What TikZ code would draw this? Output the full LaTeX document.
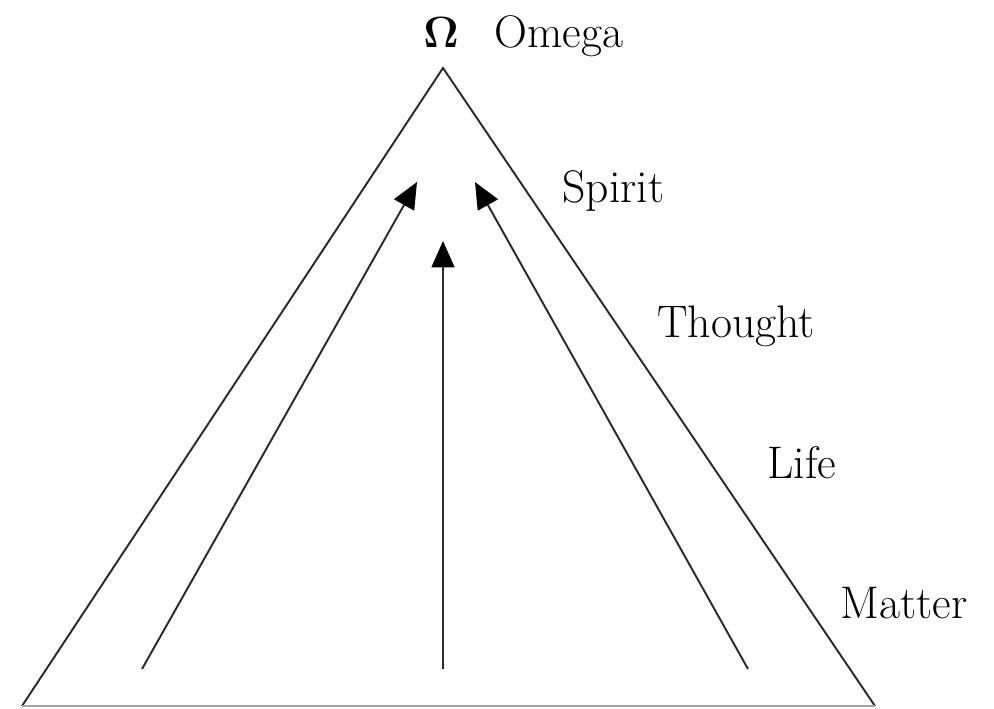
\documentclass[tikz,border=0pt]{standalone}
\usepackage{amsmath,amssymb}
\usetikzlibrary{arrows.meta,positioning}
\definecolor{edge}{HTML}{2A2A2A}
\tikzset{
  slope/.style={draw=edge, line width=1.1pt, line join=miter},
  floor/.style={draw=gray!70, line width=0.9pt},
  rise/.style={-{Triangle[length=15pt, width=13pt, color=black]}, line width=1.1pt, draw=edge},
  lvl/.style={font=\fontsize{26}{30}\selectfont, anchor=base west, inner sep=0pt},
}
\begin{document}
\begin{tikzpicture}[x=0.02cm, y=-0.02cm]
  \useasboundingbox (0,0) rectangle (994,708);
  \coordinate (apex) at (443,68);
  \coordinate (bl) at (22,706);
  \coordinate (br) at (875,706);
  \draw[slope] (bl) -- (apex) -- (br);
  \draw[floor] (bl) -- (br);
  % labels
  \node[lvl] (om) at (423,47) {$\boldsymbol{\Omega}$};
  \node[lvl] (omega) at (494,47) {Omega};
  \node[lvl] (spirit) at (562,202) {Spirit};
  \node[lvl] (thought) at (657,337) {Thought};
  \node[lvl] (life) at (767,478) {Life};
  \node[lvl] (matter) at (840,618) {Matter};
  % arrows
  \coordinate (a1) at (142,669);
  \coordinate (b1) at (417,182);
  \coordinate (a2) at (443,669);
  \coordinate (b2) at (443,241);
  \coordinate (a3) at (748,669);
  \coordinate (b3) at (475,182);
  \foreach \i in {1,2,3} \draw[rise] (a\i) -- (b\i);
\end{tikzpicture}
\end{document}
